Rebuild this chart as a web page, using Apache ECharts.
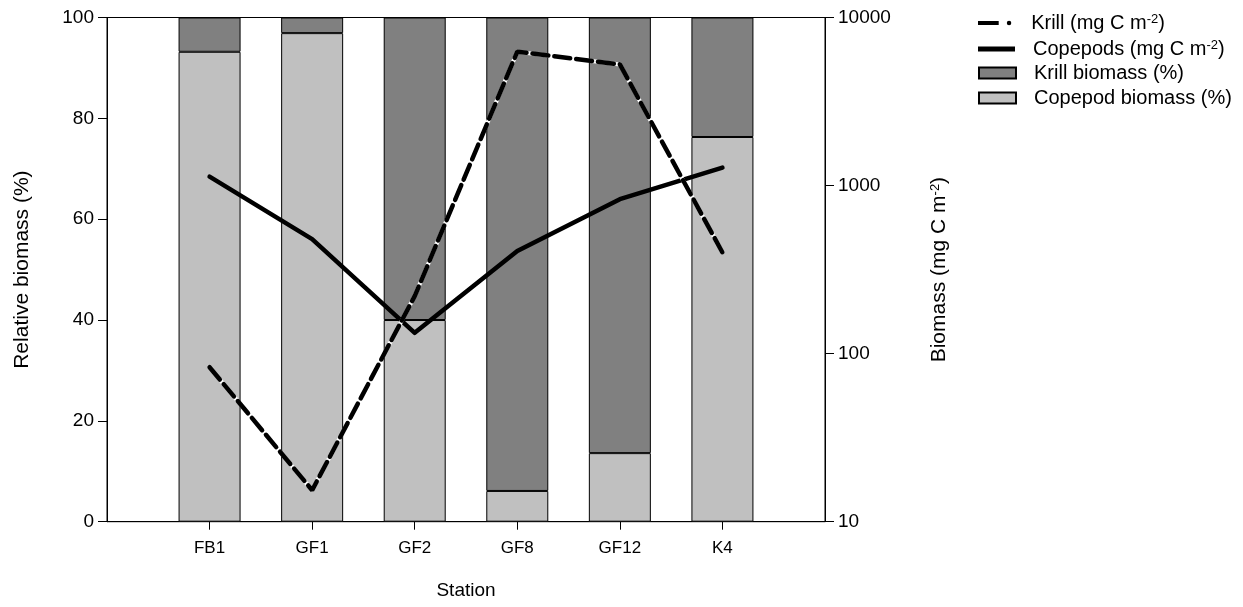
<!DOCTYPE html>
<html lang="en">

<head>
    <meta charset="UTF-8">
    <title>Station biomass</title>
    <script src="https://cdn.jsdelivr.net/npm/echarts@6/dist/echarts.min.js"></script>
    <style>
        html, body { margin: 0; padding: 0; background: #fff; }
        #main { width: 1243px; height: 607px; }
    </style>
</head>

<body>
    <div id="main"></div>

    <script>
        // data ('-' = empty slot at the ends)
        var stations = ['', 'FB1', 'GF1', 'GF2', 'GF8', 'GF12', 'K4', ''];
        var copepodPct = ['-', 93.2, 96.9, 40, 6.1, 13.6, 76.3, '-'];
        var krillPct = ['-', 6.8, 3.1, 60, 93.9, 86.4, 23.7, '-'];
        var krillC = ['-', 83, 15.4, 220, 6260, 5260, 400, '-'];
        var copepodC = ['-', 1130, 480, 133, 408, 830, 1280, '-'];
        var leftTicks = [0, 20, 40, 60, 80, 100];
        var rightTicks = [10, 100, 1000, 10000];

        var font = 'Liberation Sans, Arial, sans-serif';
        var sup = { fontSize: 13, verticalAlign: 'top', lineHeight: 12, fontFamily: font, color: '#000' };

        var myChart = echarts.init(document.getElementById('main'));

        // one legend per row so the rows can be placed like the original
        function legendRow(name, top, icon, h) {
            return {
                data: [{ name: name, icon: icon }],
                left: 978,
                top: top,
                padding: 0,
                itemWidth: 37,
                itemHeight: h,
                selectedMode: false,
                textStyle: {
                    fontFamily: font, fontSize: 20, color: '#000', padding: [0, 0, 0, 13],
                    rich: { t: { fontFamily: font, fontSize: 20, color: '#000' }, s: sup }
                },
                formatter: function (n) {
                    if (n.indexOf('mg C') > -1) return '{t|' + n.replace(' m-2)', ' m') + '}{s|-2}{t|)}';
                    return n;
                }
            };
        }

        var option = {
            animation: false,
            grid: {
                left: 107, right: 418, top: 17.5, bottom: 85.3,
                show: true, borderColor: '#000', borderWidth: 1
            },
            legend: [
                legendRow('Krill (mg C m-2)', 13, 'path://M0,0H23V4.5H0Z M32,2.25 A2.5,2.5 0 1 1 37,2.25 A2.5,2.5 0 1 1 32,2.25Z', 4.5),
                legendRow('Copepods (mg C m-2)', 39, 'path://M0,0H37V5H0Z', 5),
                legendRow('Krill biomass (%)', 63, 'rect', 11),
                legendRow('Copepod biomass (%)', 88, 'rect', 11)
            ],
            xAxis: {
                type: 'category',
                data: stations,
                boundaryGap: false,
                name: 'Station',
                nameLocation: 'middle',
                nameGap: 60,
                nameTextStyle: { fontFamily: font, fontSize: 19, color: '#000' },
                axisLine: { lineStyle: { color: '#000', width: 1 } },
                axisTick: {
                    length: 8,
                    lineStyle: { color: '#000' },
                    interval: function (i, v) { return v !== ''; }
                },
                axisLabel: {
                    margin: 18, fontFamily: font, fontSize: 17, color: '#000',
                    interval: function (i, v) { return v !== ''; }
                },
                splitLine: { show: false }
            },
            yAxis: [{
                type: 'value',
                min: leftTicks[0],
                max: leftTicks[leftTicks.length - 1],
                interval: 20,
                name: 'Relative biomass (%)',
                nameLocation: 'middle',
                nameRotate: 90,
                nameGap: 74,
                nameTextStyle: { fontFamily: font, fontSize: 21, color: '#000' },
                axisLine: { show: true, lineStyle: { color: '#000' } },
                axisTick: { show: true, length: 9, lineStyle: { color: '#000' } },
                axisLabel: { margin: 13, fontFamily: font, fontSize: 19, color: '#000' },
                splitLine: { show: false }
            }, {
                type: 'log',
                logBase: 10,
                min: rightTicks[0],
                max: rightTicks[rightTicks.length - 1],
                position: 'right',
                name: '{t|Biomass (mg C m}{s|-2}{t|)}',
                nameLocation: 'middle',
                nameRotate: 90,
                nameGap: 104,
                nameTextStyle: {
                    rich: { t: { fontFamily: font, fontSize: 21, color: '#000' }, s: sup }
                },
                axisLine: { show: true, lineStyle: { color: '#000' } },
                axisTick: { show: true, length: 9, lineStyle: { color: '#000' } },
                axisLabel: {
                    margin: 13, fontFamily: font, fontSize: 19, color: '#000',
                    formatter: function (v) { return String(Math.round(v)); }
                },
                splitLine: { show: false }
            }],
            series: [
                {
                    name: 'Copepod biomass (%)',
                    type: 'bar',
                    stack: 'pct',
                    barWidth: 62,
                    itemStyle: { color: '#c0c0c0', borderColor: '#000', borderWidth: 1 },
                    data: copepodPct
                },
                {
                    name: 'Krill biomass (%)',
                    type: 'bar',
                    stack: 'pct',
                    barWidth: 62,
                    itemStyle: { color: '#808080', borderColor: '#000', borderWidth: 1 },
                    data: krillPct
                },
                {
                    name: 'Copepods (mg C m-2)',
                    type: 'line',
                    yAxisIndex: 1,
                    symbol: 'none',
                    itemStyle: { color: '#000' },
                    lineStyle: { color: '#000', width: 4.5, cap: 'round', join: 'round' },
                    data: copepodC
                },
                {
                    // white under the dashes
                    name: 'krill-under',
                    type: 'line',
                    yAxisIndex: 1,
                    symbol: 'none',
                    lineStyle: { color: '#fff', width: 4, cap: 'round' },
                    data: krillC
                },
                {
                    name: 'Krill (mg C m-2)',
                    type: 'line',
                    yAxisIndex: 1,
                    symbol: 'none',
                    itemStyle: { color: '#000' },
                    lineStyle: { color: '#000', width: 4.5, type: [16, 6], cap: 'round' },
                    data: krillC
                }
            ]
        };
        myChart.setOption(option);
    </script>
</body>

</html>
